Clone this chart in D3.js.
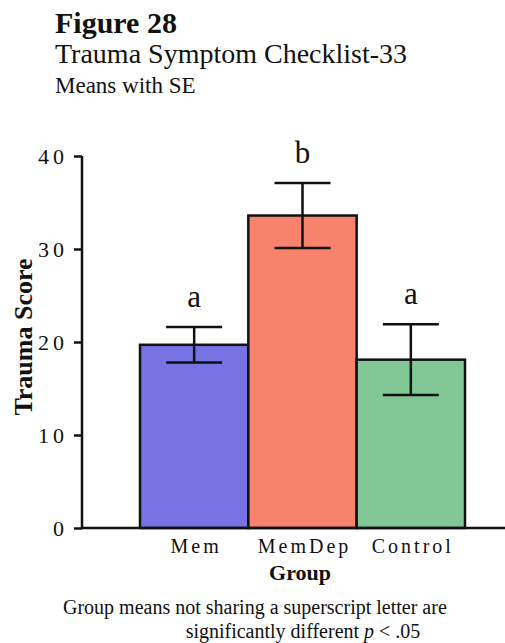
<!DOCTYPE html>
<html>
<head>
<meta charset="utf-8">
<script src="https://cdn.jsdelivr.net/npm/d3@7"></script>
<style>
  body { margin: 0; background: #fff; overflow: hidden; }
  text { font-family: "Liberation Serif", "Times New Roman", serif; fill: #111; }
</style>
</head>
<body>
<div class="viz"></div>
<script>
const groups = ["Mem", "MemDep", "Control"];
const means = [19.7, 33.6, 18.1];
const se = [1.9, 3.5, 3.8];
const letters = ["a", "b", "a"];
const yTicks = [0, 10, 20, 30, 40];
const colors = ["#7673e4", "#f8836c", "#82c896"];

const width = 505, height = 643;
const svg = d3.select(".viz").append("svg")
  .attr("width", width).attr("height", height);

// titles
svg.append("text").attr("x", 55).attr("y", 33)
  .style("font-size", "30px").style("font-weight", "bold").text("Figure 28");
svg.append("text").attr("x", 55).attr("y", 63)
  .style("font-size", "28px").text("Trauma Symptom Checklist-33");
svg.append("text").attr("x", 55).attr("y", 93)
  .style("font-size", "23px").text("Means with SE");

const x = d3.scaleBand().domain(groups).range([140, 465]).padding(0);
const y = d3.scaleLinear().domain([0, 40]).range([528, 156]);

// bars
svg.selectAll("rect.bar")
  .data(groups)
  .join("rect")
  .attr("class", "bar")
  .attr("x", d => x(d))
  .attr("y", (d, i) => y(means[i]))
  .attr("width", x.bandwidth())
  .attr("height", (d, i) => y(0) - y(means[i]))
  .attr("fill", (d, i) => colors[i])
  .attr("stroke", "#111")
  .attr("stroke-width", 2.5);

// error bars (mean +/- SE)
const err = svg.append("g").attr("stroke", "#111").attr("stroke-width", 2.5);
groups.forEach((g, i) => {
  const cx = x(g) + x.bandwidth() / 2;
  const hi = y(means[i] + se[i]), lo = y(means[i] - se[i]);
  err.append("line").attr("x1", cx).attr("x2", cx).attr("y1", hi).attr("y2", lo);
  err.append("line").attr("x1", cx - 28).attr("x2", cx + 28).attr("y1", hi).attr("y2", hi);
  err.append("line").attr("x1", cx - 28).attr("x2", cx + 28).attr("y1", lo).attr("y2", lo);
});

// superscript letters
svg.selectAll("text.letter")
  .data(groups)
  .join("text")
  .attr("class", "letter")
  .attr("x", d => x(d) + x.bandwidth() / 2)
  .attr("y", (d, i) => y(means[i] + se[i]) - 20)
  .attr("text-anchor", "middle")
  .style("font-size", "31px")
  .text((d, i) => letters[i]);

// y axis
const yAxis = svg.append("g")
  .attr("transform", "translate(82,0)")
  .call(d3.axisLeft(y).tickValues(yTicks).tickSize(8).tickPadding(6));
yAxis.select(".domain").attr("stroke", "#111").attr("stroke-width", 2.5).attr("d", "M0,156V528");
yAxis.selectAll(".tick line").attr("stroke", "#111").attr("stroke-width", 2.5);
yAxis.selectAll(".tick text").style("font-size", "22px").attr("fill", "#111")
  .style("letter-spacing", "4px")
  .style("font-family", "Liberation Serif, serif").attr("dy", "0.35em");

// x axis baseline
svg.append("line").attr("x1", 81).attr("x2", 505).attr("y1", 528).attr("y2", 528)
  .attr("stroke", "#111").attr("stroke-width", 2.5);

svg.selectAll("text.xlab")
  .data(groups)
  .join("text")
  .attr("class", "xlab")
  .attr("x", d => x(d) + x.bandwidth() / 2 + 2)
  .attr("y", 553)
  .attr("text-anchor", "middle")
  .style("font-size", "20px")
  .style("letter-spacing", "3px")
  .text(d => d);

svg.append("text").attr("x", 300).attr("y", 580).attr("text-anchor", "middle")
  .style("font-size", "22px").style("font-weight", "bold").text("Group");

svg.append("text")
  .attr("transform", "translate(32,337) rotate(-90)")
  .attr("text-anchor", "middle")
  .style("font-size", "26px").style("font-weight", "bold").text("Trauma Score");

// footnote
svg.append("text").attr("x", 63).attr("y", 614)
  .style("font-size", "20px").text("Group means not sharing a superscript letter are");
svg.append("text").attr("x", 303).attr("y", 638).attr("text-anchor", "middle")
  .style("font-size", "20px")
  .html('significantly different  <tspan font-style="italic">p</tspan> &lt; .05');
</script>
</body>
</html>
